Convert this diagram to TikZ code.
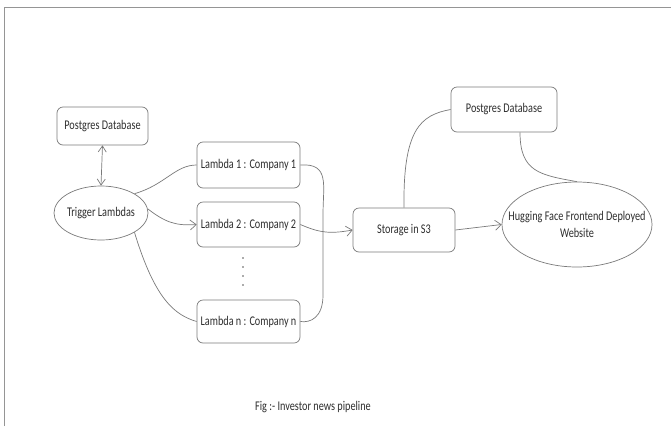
\documentclass[tikz,border=0pt]{standalone}
\usepackage{fontspec}
\setmainfont{Carlito}[FakeStretch=0.77]
\usetikzlibrary{arrows.meta,shapes.geometric}
\definecolor{linec}{HTML}{7A7A7A}
\definecolor{textc}{HTML}{2E2E2E}
\begin{document}
\begin{tikzpicture}[x=1pt,y=-1pt,
  every node/.style={text=textc,font=\fontsize{13.3}{17}\selectfont},
  box/.style={draw=linec,line width=0.7pt,rounded corners=6pt,minimum height=#1,inner sep=0pt},
  oval/.style={draw=linec,line width=0.7pt,ellipse,inner sep=0pt},
  conn/.style={draw=linec,line width=0.7pt},
  arr/.style={conn,-{Straight Barb[length=6pt,width=10pt]}},
  darr/.style={conn,{Straight Barb[length=6pt,width=8pt]}-{Straight Barb[length=6pt,width=8pt]}}]
\useasboundingbox (0,0) rectangle (671,426);
\fill[white] (0,0) rectangle (671,426);
% frame
\draw[linec!80,line width=1pt] (4,426) -- (4,7) -- (671,7);
% nodes
\node[box=38pt,minimum width=91pt] (pg1) at (102.5,126) {Postgres Database};
\node[oval,minimum width=94pt,minimum height=54pt] (trig) at (101,213) {};
\node at (trig.center) {Trigger Lambdas};
\node[box=46pt,minimum width=103pt] (l1) at (248.5,165) {Lambda 1 : Company 1};
\node[box=45pt,minimum width=103pt] (l2) at (248.5,224.5) {Lambda 2 : Company 2};
\node[box=43pt,minimum width=103pt] (ln) at (248.5,321.5) {Lambda n : Company n};
\node[box=44pt,minimum width=102pt] (s3) at (404,230) {Storage in S3};
\node[box=45pt,minimum width=106pt] (pg2) at (504,109.5) {Postgres Database};
\node[oval,minimum width=150pt,minimum height=85pt] (hf) at (577,224.5) {};
\node[align=center] (hft) at (hf.center) {Hugging Face Frontend Deployed\\Website};
\node (cap) at (313,407) {Fig :- Investor news pipeline};
% dots
\foreach \yy [count=\i] in {258,267,276,285} \fill[textc!80] (243,\yy) circle (0.8pt) coordinate (d\i);
% connectors
\draw[darr] (pg1.south) -- (trig.north);
\draw[conn] (trig.30) .. controls (165,185) and (175,165) .. (l1.west);
\draw[arr] (trig.5) .. controls (165,222) and (175,226) .. (l2.west);
\draw[conn] (trig.-30) .. controls (155,300) and (175,315) .. (ln.west);
\draw[conn] (l1.east) .. controls (330,163) and (323,185) .. (323,215) -- (323,295) .. controls (323,318) and (310,323) .. (ln.east);
\draw[arr] (l2.east) .. controls (320,233) and (330,234) .. (s3.west);
\draw[arr] (s3.east) -- (hf.west);
\draw[conn] (s3.north) .. controls (403,130) and (420,115) .. (pg2.west);
\draw[conn] ([xshift=16pt]pg2.south) .. controls (520,172) and (540,175) .. (hf.north);
\end{tikzpicture}
\end{document}
